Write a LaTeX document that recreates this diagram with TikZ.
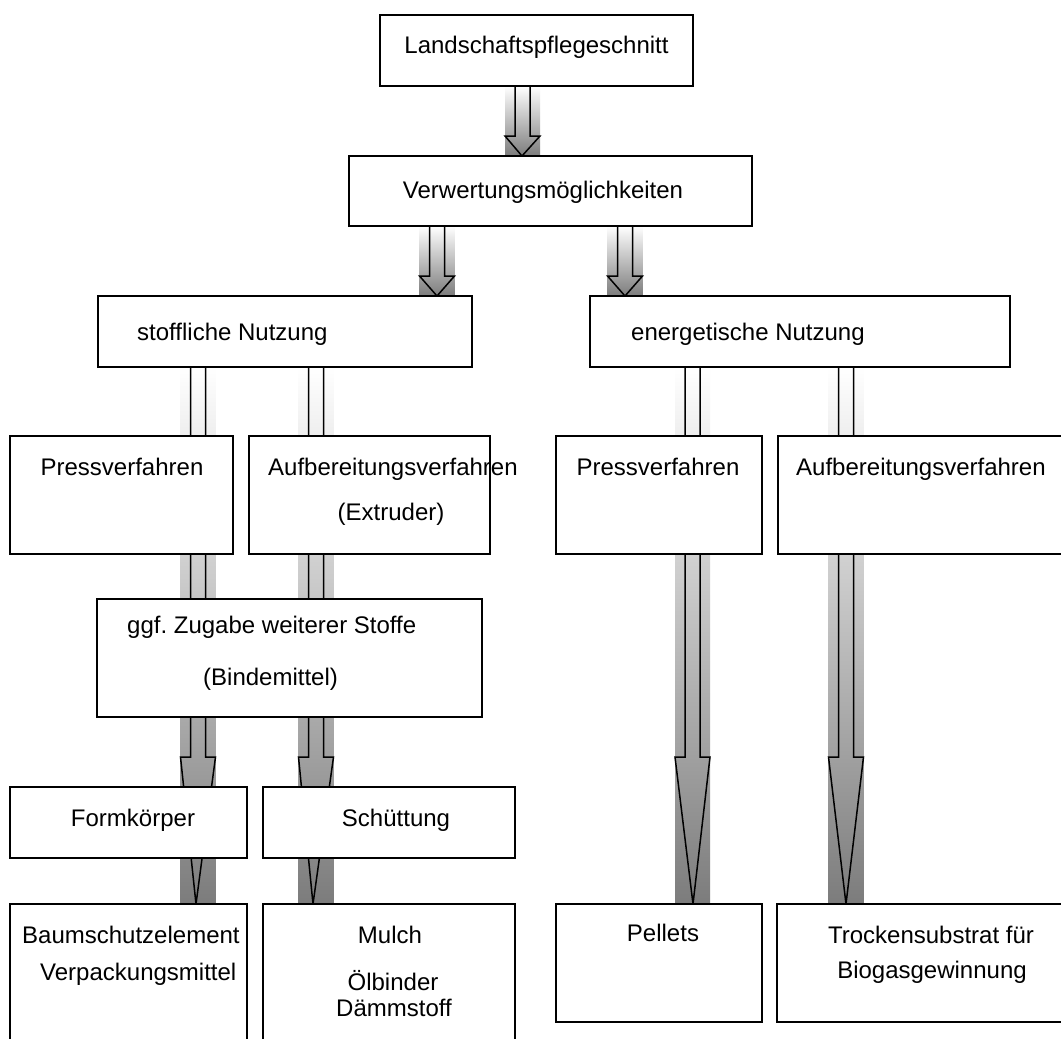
\documentclass[tikz,border=0pt]{standalone}
\usepackage{fontspec}
\setmainfont{Liberation Sans}
\usetikzlibrary{calc}
\frenchspacing
\definecolor{arrowgray}{RGB}{124,124,124}
\pgfdeclarelayer{bg}
\pgfsetlayers{bg,main}
\tikzset{
  box/.style={draw=black, fill=white, line width=1.5pt, inner sep=0pt, outer sep=0pt, anchor=north west},
  lbl/.style={inner sep=0pt, font=\fontsize{24}{29}\selectfont},
  arrowline/.style={draw=black, line width=1.5pt, line join=miter},
}
\newcommand\boxat[5]{\node[box, minimum width={(#4-#2)*1pt}, minimum height={(#5-#3)*1pt}] (#1) at (#2,#3) {};}
% #1 top node, #2 bottom node, #3 centre x, #4 head start y, #5 tip x
\newcommand\flowarrow[5]{%
  \shade[top color=white, bottom color=arrowgray] let \p1=(#1.south), \p2=(#2.north) in
    ({#3-17.5},\y1) rectangle ({#3+17.5},\y2);
  \draw[arrowline] let \p1=(#1.south), \p2=(#2.north) in
    ({#3-7.5},\y1) -- ({#3-7.5},#4) -- ({#3-17.5},#4) -- (#5,\y2) --
    ({#3+17.5},#4) -- ({#3+7.5},#4) -- ({#3+7.5},\y1) -- cycle;
}
\begin{document}
\begin{tikzpicture}[x=1pt,y=-1pt]
\useasboundingbox (0,0) rectangle (1061,1039);
% boxes
\boxat{land}{380}{15}{693}{86}
\boxat{verw}{349}{156}{752}{226}
\boxat{stoff}{98}{296}{472}{367}
\boxat{energ}{590}{296}{1010}{367}
\boxat{pressL}{10}{436}{233}{554}
\boxat{aufL}{249}{436}{490}{554}
\boxat{pressR}{556}{436}{762}{554}
\boxat{aufR}{778}{436}{1072}{554}
\boxat{ggf}{97}{599}{482}{717}
\boxat{form}{10}{787}{247}{858}
\boxat{schue}{263}{787}{515}{858}
\boxat{baum}{10}{904}{247}{1050}
\boxat{mulch}{263}{904}{515}{1050}
\boxat{pellets}{556}{904}{762}{1022}
\boxat{trock}{777}{904}{1072}{1022}
% labels
\node[lbl, anchor=base] (t-land) at (536.5,53.5) {Landschaftspflegeschnitt};
\node[lbl, anchor=base] (t-verw) at (543,198.5) {Verwertungsmöglichkeiten};
\node[lbl, anchor=base west] (t-stoff) at (137,340.5) {stoffliche Nutzung};
\node[lbl, anchor=base west] (t-energ) at (631,340.5) {energetische Nutzung};
\node[lbl, anchor=base] (t-pressL) at (122,475.5) {Pressverfahren};
\node[lbl, anchor=base west] (t-aufL) at (268,475.5) {Aufbereitungsverfahren};
\node[lbl, anchor=base] (t-extr) at (391,520.5) {(Extruder)};
\node[lbl, anchor=base] (t-pressR) at (658,475.5) {Pressverfahren};
\node[lbl, anchor=base west] (t-aufR) at (796,475.5) {Aufbereitungsverfahren};
\node[lbl, anchor=base west] (t-ggf) at (127,633.5) {ggf. Zugabe weiterer Stoffe};
\node[lbl, anchor=base west] (t-binde) at (203,685.5) {(Bindemittel)};
\node[lbl, anchor=base] (t-form) at (133,826.5) {Formkörper};
\node[lbl, anchor=base] (t-schue) at (396,826.5) {Schüttung};
\node[lbl, anchor=base west] (t-baum) at (22,943.5) {Baumschutzelement};
\node[lbl, anchor=base west] (t-verp) at (40,980.5) {Verpackungsmittel};
\node[lbl, anchor=base] (t-mulch) at (390,943.5) {Mulch};
\node[lbl, anchor=base] (t-oel) at (393,990.5) {Ölbinder};
\node[lbl, anchor=base] (t-daemm) at (394,1016.5) {Dämmstoff};
\node[lbl, anchor=base] (t-pell) at (663,941.5) {Pellets};
\node[lbl, anchor=base] (t-trock) at (931,943.5) {Trockensubstrat für};
\node[lbl, anchor=base] (t-bio) at (932,978.5) {Biogasgewinnung};
% arrows behind the boxes
\begin{pgfonlayer}{bg}
\fill[white] (0,0) rectangle (1061,1039);
\flowarrow{land}{verw}{522.5}{136}{522}
\flowarrow{verw}{stoff}{437}{276}{437}
\flowarrow{verw}{energ}{625}{276}{625}
\flowarrow{stoff}{baum}{198}{757}{196}
\flowarrow{stoff}{mulch}{316}{757}{313}
\flowarrow{energ}{pellets}{692.5}{757}{693}
\flowarrow{energ}{trock}{846}{757}{846}
\end{pgfonlayer}
\end{tikzpicture}
\end{document}
